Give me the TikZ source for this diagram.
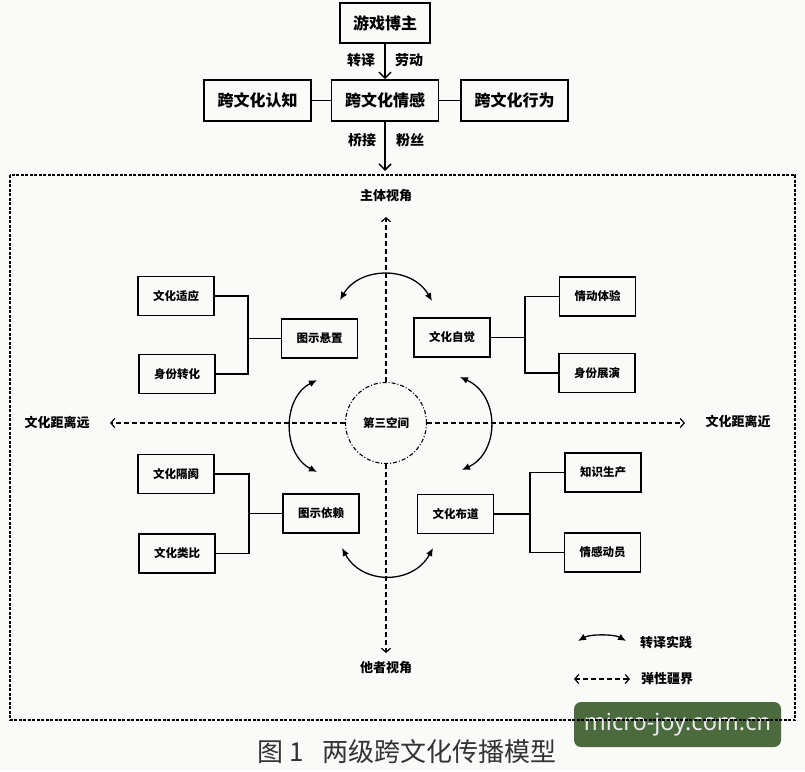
\documentclass[tikz,border=0pt]{standalone}
\usepackage{fontspec}
\setmainfont{Noto Sans CJK SC}
\newfontfamily\wmfont{Noto Sans}
\usetikzlibrary{arrows.meta}
\definecolor{wmgreen}{HTML}{4B6A3E}
\definecolor{bgcol}{HTML}{FAFAF8}
\definecolor{capcol}{HTML}{333333}
\tikzset{
  topbox/.style={draw, line width=1.7pt, minimum width=107pt, minimum height=41pt, inner sep=0pt,
    font=\fontsize{16}{16}\selectfont\bfseries},
  innerbox/.style={draw, line width=1.7pt, minimum width=76pt, minimum height=39pt, inner sep=0pt,
    font=\fontsize{11.5}{12}\selectfont\bfseries},
  lbl/.style={font=\fontsize{14}{14}\selectfont\bfseries, inner sep=0pt},
  axislbl/.style={font=\fontsize{13}{13}\selectfont\bfseries, inner sep=0pt},
  link/.style={line width=1.4pt},
  solidarrow/.style={line width=1.5pt, -{Straight Barb[length=6pt,width=12pt,line width=1.5pt]}},
  dasharrow/.style={line width=1.2pt, dash pattern=on 5pt off 3pt, -{Straight Barb[length=4pt,width=9pt,line width=1.2pt]}},
  twinarc/.style={line width=1.3pt, {Latex[length=8pt,width=7pt]}-{Latex[length=8pt,width=7pt]}},
  frame/.style={line width=1.3pt, dash pattern=on 3pt off 1.5pt},
}
\begin{document}
\begin{tikzpicture}[x=1pt,y=-1pt]
\fill[bgcol] (0,0) rectangle (805,771);
\useasboundingbox (0,0) rectangle (805,771);

% top level
\node[topbox, minimum width=90pt, minimum height=40pt] (boss) at (385,23) {游戏博主};
\node[topbox] (emo) at (385,100.5) {跨文化情感};
\node[topbox] (cog) at (257.5,100.5) {跨文化认知};
\node[topbox] (beh) at (514.5,100.5) {跨文化行为};
\draw[link] (cog) -- (emo);
\draw[link] (emo) -- (beh);
\draw[solidarrow] (boss.south) -- (emo.north);
\node[lbl] (l1) at (361,60) {转译};
\node[lbl] (l2) at (409,60) {劳动};
\coordinate (frametip) at (385,171);
\draw[solidarrow] (emo.south) -- (frametip);
\node[lbl] (l3) at (362,140) {桥接};
\node[lbl] (l4) at (410,140) {粉丝};

% watermark
\node[fill=wmgreen, rounded corners=7pt, minimum width=207pt, minimum height=45pt, inner sep=0pt,
  text=white!92!black, font=\wmfont\fontsize{23.5}{24}\selectfont] (wm) at (677.5,724.5) {micro-joy.com.cn};

% frame
\draw[frame] (10,175) rectangle (795,720);

% centre
\node[circle, draw, line width=1.1pt, dash pattern=on 4pt off 2pt on 1pt off 2pt, minimum size=81pt, inner sep=0pt,
  font=\fontsize{11.5}{12}\selectfont\bfseries] (third) at (386,423) {第三空间};
\node[axislbl] (subj) at (386,196) {主体视角};
\node[axislbl] (other) at (386,668) {他者视角};
\node[axislbl] (far) at (57,422) {文化距离远};
\node[axislbl] (near) at (738,421) {文化距离近};
\coordinate (uptip) at (386,217);
\coordinate (downtip) at (386,653);
\coordinate (lefttip) at (110,423);
\coordinate (righttip) at (685,423);
\draw[dasharrow] (third.north) -- (uptip);
\draw[dasharrow] (third.south) -- (downtip);
\draw[dasharrow] (third.west) -- (lefttip);
\draw[dasharrow] (third.east) -- (righttip);

% inner boxes
\node[innerbox] (a1) at (176,296) {文化适应};
\node[innerbox] (a2) at (177,374) {身份转化};
\node[innerbox] (A) at (319.5,338.5) {图示悬置};
\node[innerbox] (B) at (452,337.5) {文化自觉};
\node[innerbox] (b1) at (597.5,296.5) {情动体验};
\node[innerbox] (b2) at (597,373) {身份展演};
\node[innerbox] (c1) at (176,474) {文化隔阂};
\node[innerbox] (c2) at (177,553.5) {文化类比};
\node[innerbox] (C) at (321,513.5) {图示依赖};
\node[innerbox] (D) at (455.5,514) {文化布道};
\node[innerbox] (d1) at (603,472.5) {知识生产};
\node[innerbox] (d2) at (602.5,552.5) {情感动员};

\coordinate (ja) at (248,338.5);
\coordinate (jb) at (525,337.5);
\coordinate (jc) at (249,513.5);
\coordinate (jd) at (530,514);
\draw[link] (a1.east) -| (ja) |- (a2.east);
\draw[link] (ja) -- (A.west);
\draw[link] (b1.west) -| (jb) |- (b2.west);
\draw[link] (jb) -- (B.east);
\draw[link] (c1.east) -| (jc) |- (c2.east);
\draw[link] (jc) -- (C.west);
\draw[link] (d1.west) -| (jd) |- (d2.west);
\draw[link] (jd) -- (D.east);

% translation arcs
\coordinate (t1) at (340,300);
\coordinate (t2) at (432,301);
\coordinate (lt1) at (317,380);
\coordinate (lt2) at (317,472);
\coordinate (rt1) at (460,377);
\coordinate (rt2) at (462,470);
\coordinate (bt1) at (342,548);
\coordinate (bt2) at (433,548);
\draw[twinarc] (t1) .. controls (360,266) and (412,266) .. (t2);
\draw[twinarc] (lt1) .. controls (282,398) and (282,454) .. (lt2);
\draw[twinarc] (rt1) .. controls (500,395) and (500,452) .. (rt2);
\draw[twinarc] (bt1) .. controls (362,585) and (413,585) .. (bt2);

% legend
\coordinate (g1) at (578,641);
\coordinate (g2) at (626,641);
\draw[twinarc] (g1) .. controls (590,634) and (614,634) .. (g2);
\node[axislbl, anchor=west] (gl1) at (640,642) {转译实践};
\coordinate (h1) at (574,679);
\coordinate (h2) at (630,679);
\draw[line width=1.2pt, dash pattern=on 5pt off 3pt, {Straight Barb[length=4pt,width=9pt,line width=1.2pt]}-{Straight Barb[length=4pt,width=9pt,line width=1.2pt]}] (h1) -- (h2);
\node[axislbl, anchor=west] (gl2) at (641,679) {弹性疆界};

% caption
\node[text=capcol, font=\fontsize{26}{26}\selectfont, inner sep=0pt] (cap) at (407,752) {图 1\hspace{18pt}两级跨文化传播模型};
\end{tikzpicture}
\end{document}
